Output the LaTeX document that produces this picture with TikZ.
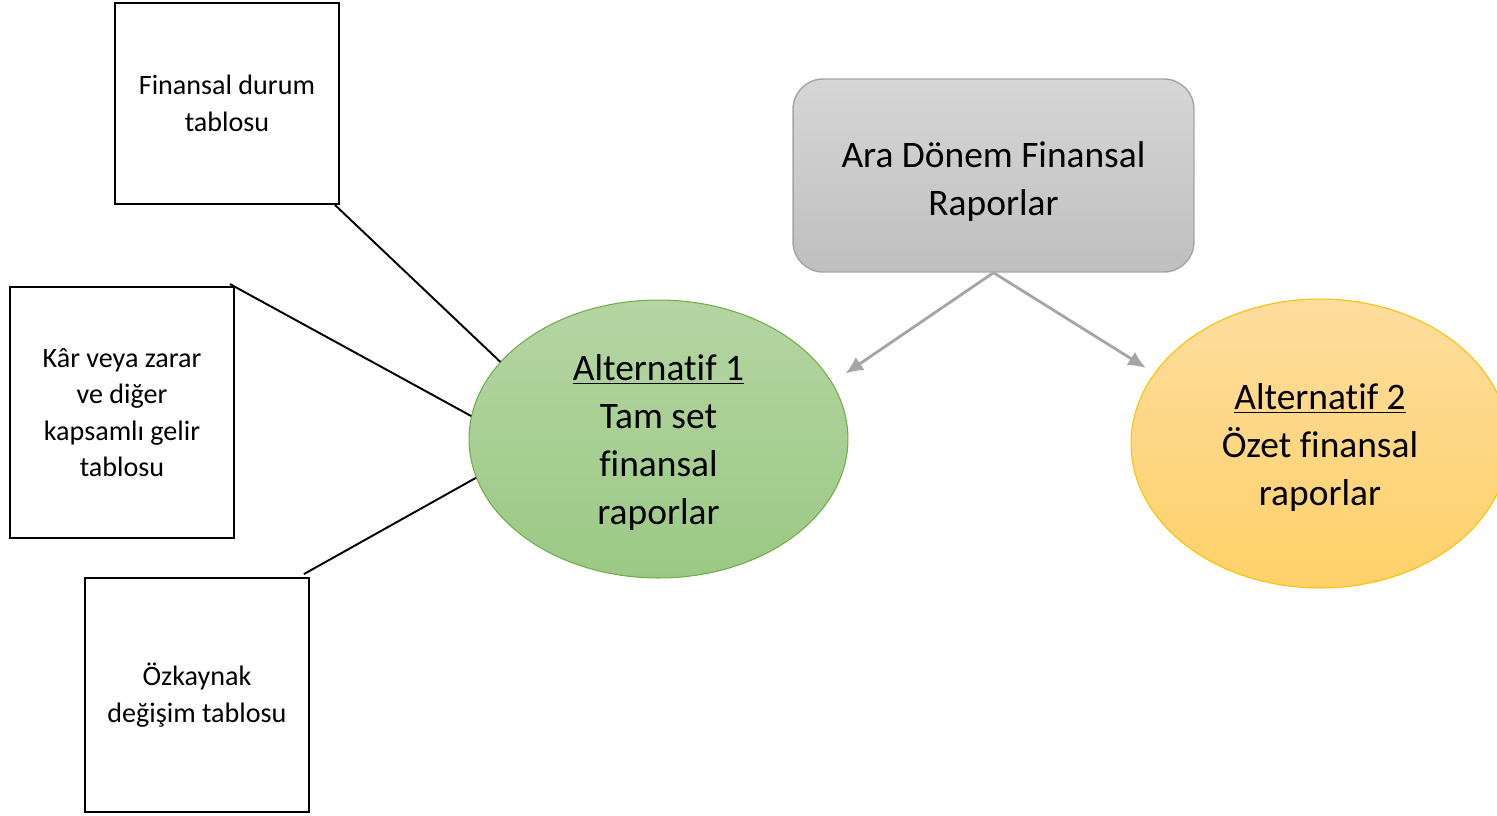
\documentclass[tikz,border=0pt]{standalone}
\usepackage{fontspec}
\setmainfont[Ligatures=NoCommon]{Carlito}
\usetikzlibrary{shapes.geometric}
\usetikzlibrary{arrows.meta}
\definecolor{araTop}{HTML}{D6D6D6}
\definecolor{araBot}{HTML}{BFBFBF}
\definecolor{araLine}{HTML}{A5A5A5}
\definecolor{altGreenTop}{HTML}{B5D5A3}
\definecolor{altGreenBot}{HTML}{9BC984}
\definecolor{altGreenLine}{HTML}{70AD47}
\definecolor{altYellowTop}{HTML}{FEDD9E}
\definecolor{altYellowBot}{HTML}{FFD169}
\definecolor{altYellowLine}{HTML}{FFC000}
\tikzset{
	tablebox/.style={draw=black, line width=1.1pt, minimum width=4.48cm, align=center, inner sep=0pt, font=\fontsize{16}{20.8}\selectfont},
	bigtext/.style={align=center, font=\fontsize{21.3}{27.3}\selectfont},
	link/.style={black, line width=1.1pt},
	grayarrow/.style={araLine, line width=1.6pt, -{Latex[length=10pt,width=9pt]}}
}

\begin{document}
\begin{tikzpicture}[x=0.02cm, y=-0.02cm]
		\useasboundingbox (0,0) rectangle (1497,815);
%
		\node[tablebox, minimum height=4.02cm] (fdtab) at (227,103.5) {Finansal durum\\tablosu};
		\node[tablebox, minimum height=5.02cm] (kztab) at (122,412.5) {Kâr veya zarar\\ve diğer\\kapsamlı gelir\\tablosu};
		\node[tablebox, minimum height=4.68cm] (oztab) at (197,695) {Özkaynak\\değişim tablosu};
%
		\node[bigtext, draw=araLine, line width=0.8pt, rounded corners=0.6cm, top color=araTop, bottom color=araBot, minimum width=8.02cm, minimum height=3.86cm] (ara) at (993.5,175.5) {\rule{0pt}{22pt}Ara Dönem Finansal\\Raporlar};
		\node[bigtext, ellipse, draw=altGreenLine, line width=0.6pt, top color=altGreenTop, bottom color=altGreenBot, minimum width=7.58cm, minimum height=5.56cm, inner sep=0pt] (alt1) at (658.5,439) {\rule{0pt}{18.5pt}\underline{Alternatif 1}\\Tam set\\finansal\\raporlar};
		\node[bigtext, ellipse, draw=altYellowLine, line width=0.6pt, top color=altYellowTop, bottom color=altYellowBot, minimum width=7.56cm, minimum height=5.78cm, inner sep=0pt] (alt2) at (1320,443.5) {\rule{0pt}{19pt}\underline{Alternatif 2}\\Özet finansal\\raporlar};
%
		\draw[link] ([xshift=-0.1cm]fdtab.south east) -- (alt1.154);
		\draw[link] ([xshift=-0.1cm, yshift=0.04cm]kztab.north east) -- (alt1.173);
		\draw[link] ([xshift=-0.12cm, yshift=0.06cm]oztab.north east) -- (alt1.192);
%
		\draw[grayarrow, shorten >=0.32cm] (ara.south) -- (alt1.18);
		\draw[grayarrow, shorten >=0.2cm] (ara.south) -- (alt2.157);
\end{tikzpicture}
\end{document}
